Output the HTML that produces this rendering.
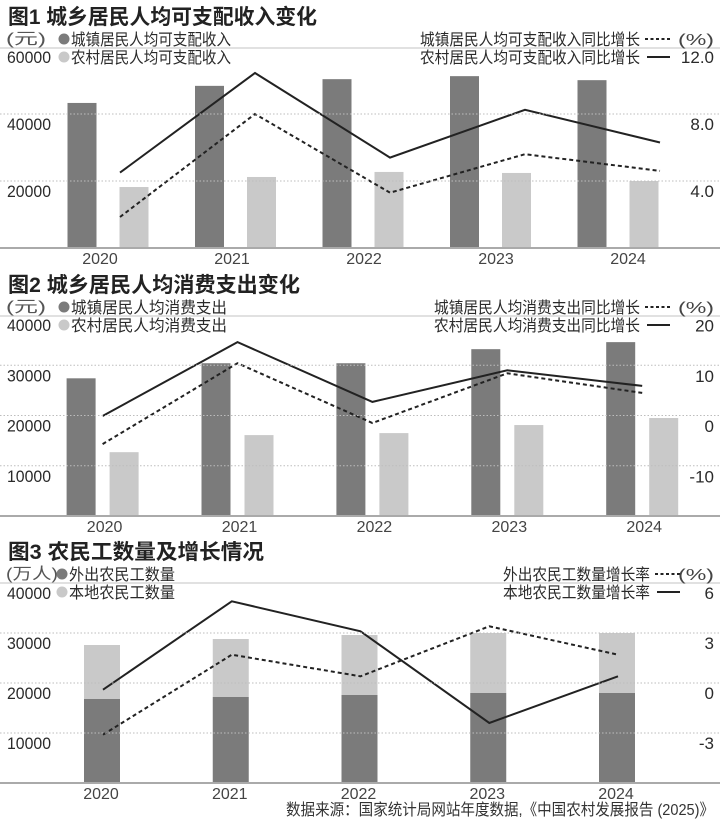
<!DOCTYPE html>
<html><head><meta charset="utf-8"><style>
html,body{margin:0;padding:0;background:#fff;}
svg{display:block;font-family:"Liberation Sans","Noto Sans CJK SC",sans-serif;}
</style></head><body>
<svg id="c" width="720" height="825" viewBox="0 0 720 825" xmlns="http://www.w3.org/2000/svg"></svg>
<script>
// ---- Chart 1 data ----
const years = ["2020","2021","2022","2023","2024"];
const c1Urban = [43300, 48400, 50400, 51300, 50100];
const c1Rural = [18200, 21200, 22700, 22400, 20000];
const c1UrbanGrowth = [1.85, 8.0, 3.3, 5.6, 4.6];
const c1RuralGrowth = [4.5, 10.45, 5.4, 8.25, 6.3];
const c1LeftTicks = [20000, 40000, 60000];
const c1RightTicks = ["4.0", "8.0", "12.0"];
// ---- Chart 2 data ----
const c2Urban = [27400, 30400, 30400, 33200, 34600];
const c2Rural = [12700, 16100, 16500, 18100, 19500];
const c2UrbanGrowth = [-5.6, 10.5, -1.4, 8.5, 4.6];
const c2RuralGrowth = [0, 14.7, 2.8, 9.1, 6.0];
const c2LeftTicks = [10000, 20000, 30000, 40000];
const c2RightTicks = ["-10", "0", "10", "20"];
// ---- Chart 3 data ----
const c3Outbound = [16800, 17200, 17600, 18000, 18000];
const c3Local = [10800, 11600, 12000, 12000, 12000];
const c3OutboundGrowth = [-3.1, 1.7, 0.4, 3.4, 1.7];
const c3LocalGrowth = [-0.4, 4.9, 3.1, -2.4, 0.4];
const c3LeftTicks = [10000, 20000, 30000, 40000];
const c3RightTicks = ["-3", "0", "3", "6"];

const svg = document.getElementById('c');
const NS = "http://www.w3.org/2000/svg";
function mk(tag, attrs, parent){
  const e = document.createElementNS(NS, tag);
  for (const k in attrs) e.setAttribute(k, attrs[k]);
  (parent||svg).appendChild(e);
  return e;
}
function txt(s, x, y, size, opts){
  opts = opts||{};
  const t = mk('text', {x:x, y:y, 'font-size':size, fill:opts.fill||'#2a2a2a', 'text-anchor':opts.anchor||'start'});
  if (opts.bold) t.setAttribute('font-weight','bold');
  if (opts.len){ t.setAttribute('textLength', opts.len); t.setAttribute('lengthAdjust','spacingAndGlyphs'); }
  t.textContent = s;
  return t;
}
const DARK = '#7b7b7b', LIGHT = '#c9c9c9';

function panel(p){
  const g = mk('g', {});
  
  
  const t = txt(p.title, 8, p.top - 24, 21, {bold:true, fill:'#222', len:p.titleLen});
  
  
  mk('line', {x1:0, x2:720, y1:p.top, y2:p.top, stroke:'#cfcfcf', 'stroke-width':1.2});
  const u = txt(p.unit, 6, p.top - 4, 16, {fill:'#555', len:p.unitLen});
  
  
  let c = mk('circle', {cx:p.legX+6, cy:p.top-9, r:5.5, fill:DARK});
  
  
  let l = txt(p.leg1, p.legX+13, p.top - 3, 16, {len:p.leg1Len});
  
  
  c = mk('circle', {cx:p.legX+6, cy:p.top+9, r:5.5, fill:LIGHT});
  
  
  l = txt(p.leg2, p.legX+13, p.top + 15, 16, {len:p.leg2Len});
  
  
  l = txt(p.rleg1, p.rlegX, p.top - 3, 16, {len:p.rlegLen1});
  
  
  mk('line', {x1:p.rlegEnd+5, x2:p.rlegEnd+30, y1:p.top-9, y2:p.top-9, stroke:'#222', 'stroke-width':2, 'stroke-dasharray':'3,2.5'});
  l = txt('(%)', 714, p.top - 3, 16, {anchor:'end', fill:'#444', len:36});
  
  
  l = txt(p.rleg2, p.rlegX, p.top + 15, 16, {len:p.rlegLen2});
  
  
  mk('line', {x1:p.rlegEnd+7, x2:p.rlegEnd+30, y1:p.top+9, y2:p.top+9, stroke:'#222', 'stroke-width':2});
  p.leftTicks.forEach((v, i) => {
    const y = p.yL(v);
    if (i < p.leftTicks.length - 1)
      mk('line', {x1:0, x2:720, y1:y, y2:y, stroke:'#bdbdbd', 'stroke-width':1, 'stroke-dasharray':'1.5,2'});
    const tk = txt(String(v), 7, y + 16, 17, {fill:'#2a2a2a', len:44});
    
    
  });
  p.rightTicks.forEach((s, i) => {
    const y = p.yR(parseFloat(s));
    const tk = txt(s, 714, y + 16, 17, {anchor:'end', fill:'#2a2a2a'});
    
    
  });
  p.drawBars(g);
  mk('line', {x1:0, x2:720, y1:p.base, y2:p.base, stroke:'#aaa', 'stroke-width':2});
  const dashPts = p.dash.map((v,i)=>p.lx(i).toFixed(1)+','+p.yR(v).toFixed(1)).join(' ');
  const solidPts = p.solid.map((v,i)=>p.lx(i).toFixed(1)+','+p.yR(v).toFixed(1)).join(' ');
  let pl = mk('polyline', {points:dashPts, fill:'none', stroke:'#222', 'stroke-width':2, 'stroke-dasharray':'4,3'}, g);
  
  
  pl = mk('polyline', {points:solidPts, fill:'none', stroke:'#222', 'stroke-width':2}, g);
  
  
  years.forEach((yv, i) => {
    const t2 = txt(yv, p.yearX(i), p.base + 16, 16, {anchor:'middle', fill:'#444'});
    
    
  });
}

panel({
  name:'chart1-income', title:'图1 城乡居民人均可支配收入变化', titleLen:309, top:48, base:248,
  unit:'(元)', unitLen:40, legX:58,
  leg1:'城镇居民人均可支配收入', leg1Len:160, leg2:'农村居民人均可支配收入', leg2Len:160,
  rleg1:'城镇居民人均可支配收入同比增长', rleg2:'农村居民人均可支配收入同比增长', rlegX:420, rlegLen1:220, rlegLen2:220, rlegEnd:640,
  leftTicks:c1LeftTicks, rightTicks:c1RightTicks,
  yL:v=>248 - v/60000*201, yR:v=>248 - v/12*201,
  lx:i=>120 + i*135, yearX:i=>100 + i*132,
  dash:c1UrbanGrowth, solid:c1RuralGrowth,
  drawBars:function(g){
    years.forEach((yv,i)=>{
      const x = 67.5 + i*127.5;
      let r = mk('rect', {x:x, y:this.yL(c1Urban[i]), width:29, height:248-this.yL(c1Urban[i]), fill:DARK}, g);
      
      
      r = mk('rect', {x:x+52, y:this.yL(c1Rural[i]), width:29, height:248-this.yL(c1Rural[i]), fill:LIGHT}, g);
      
      
    });
  }
});
panel({
  name:'chart2-consumption', title:'图2 城乡居民人均消费支出变化', titleLen:292, top:316, base:516,
  unit:'(元)', unitLen:40, legX:58,
  leg1:'城镇居民人均消费支出', leg1Len:156, leg2:'农村居民人均消费支出', leg2Len:156,
  rleg1:'城镇居民人均消费支出同比增长', rleg2:'农村居民人均消费支出同比增长', rlegX:434, rlegLen1:206, rlegLen2:206, rlegEnd:640,
  leftTicks:c2LeftTicks, rightTicks:c2RightTicks,
  yL:v=>516 - v/40000*201, yR:v=>416 - v*5.025,
  lx:i=>66.6 + i*134.9 + 36, yearX:i=>66.6 + i*134.9 + 38,
  dash:c2UrbanGrowth, solid:c2RuralGrowth,
  drawBars:function(g){
    years.forEach((yv,i)=>{
      const x = 66.6 + i*134.9;
      let r = mk('rect', {x:x, y:this.yL(c2Urban[i]), width:29, height:516-this.yL(c2Urban[i]), fill:DARK}, g);
      
      
      r = mk('rect', {x:x+43, y:this.yL(c2Rural[i]), width:29, height:516-this.yL(c2Rural[i]), fill:LIGHT}, g);
      
      
    });
  }
});
panel({
  name:'chart3-migrant-workers', title:'图3 农民工数量及增长情况', titleLen:256, top:583, base:783,
  unit:'(万人)', unitLen:52, legX:56,
  leg1:'外出农民工数量', leg1Len:106, leg2:'本地农民工数量', leg2Len:106,
  rleg1:'外出农民工数量增长率', rleg2:'本地农民工数量增长率', rlegX:503, rlegLen1:147, rlegLen2:147, rlegEnd:650,
  leftTicks:c3LeftTicks, rightTicks:c3RightTicks,
  yL:v=>783 - v/40000*200, yR:v=>683 - v*16.67,
  lx:i=>84 + i*128.75 + 19, yearX:i=>84 + i*128.75 + 17,
  dash:c3OutboundGrowth, solid:c3LocalGrowth,
  drawBars:function(g){
    years.forEach((yv,i)=>{
      const x = 84 + i*128.75;
      const yo = this.yL(c3Outbound[i]);
      const yt = this.yL(c3Outbound[i] + c3Local[i]);
      let r = mk('rect', {x:x, y:yo, width:36, height:783-yo, fill:DARK}, g);
      
      
      r = mk('rect', {x:x, y:yt, width:36, height:yo-yt, fill:LIGHT}, g);
      
      
    });
  }
});
const src = txt('数据来源：国家统计局网站年度数据,《中国农村发展报告 (2025)》', 714, 815, 16, {anchor:'end', fill:'#333', len:428});


</script>
</body></html>
